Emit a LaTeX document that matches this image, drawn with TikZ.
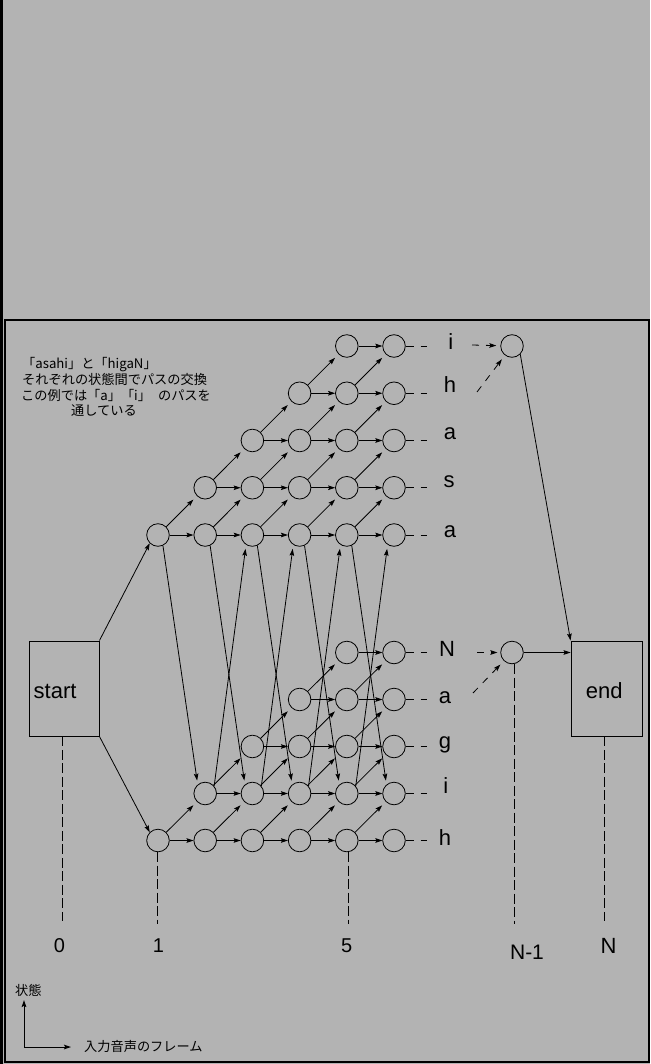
\documentclass[tikz,border=0pt]{standalone}
\usepackage{fontspec}
\setmainfont{Liberation Sans}
\newfontfamily\jpfont{Noto Sans CJK JP}
\usetikzlibrary{arrows.meta}
\definecolor{bg}{HTML}{B3B3B3}
\begin{document}
\begin{tikzpicture}[x=1pt,y=-1pt,
  st/.style={circle,draw,line width=0.8pt,minimum size=22.6pt,inner sep=0pt},
  box/.style={draw,line width=0.9pt,minimum width=70pt,minimum height=95pt,inner sep=0pt},
  tipstyle/.style={-{Stealth[length=7pt,width=4.6pt,inset=1.2pt]}},
  arr/.style={line width=0.8pt,tipstyle},
  diag/.style={arr,shorten >=5pt},
  cross/.style={arr,shorten >=4pt},
  stub/.style={line width=0.8pt,dash pattern=on 8pt off 7pt},
  darr/.style={arr,dash pattern=on 7pt off 7pt},
  vdash/.style={line width=0.8pt,dash pattern=on 10pt off 3.5pt},
  lbl/.style={font=\fontsize{22}{22}\selectfont,anchor=base,inner sep=0pt},
  num/.style={font=\fontsize{20}{20}\selectfont,anchor=base,inner sep=0pt},
  jp/.style={font=\jpfont\fontsize{13.2}{13.2}\selectfont,anchor=base west,inner sep=0pt},
]
\useasboundingbox (0,0) rectangle (650,1064);
\fill[bg] (0,0) rectangle (650,1064);
\fill[black] (0,0) rectangle (2.5,1064);
\draw[line width=1.2pt] (5,320) rectangle (649,1062);

% state nodes
\foreach \k in {1,...,6}{
  \pgfmathtruncatemacro\m{min(\k,5)}
  \foreach \r in {1,...,\m}{
    \node[st] (T-\k-\r) at ({158+(\k-1)*47.2},{535-(\r-1)*47.25}) {};
    \node[st] (B-\k-\r) at ({158+(\k-1)*47.2},{840.5-(\r-1)*47}) {};
  }
}
\node[st] (TR) at (512,346) {};
\node[st] (BR) at (512,652.5) {};

% start / end
\node[box] (start) at (64,688.5) {};
\node[lbl,anchor=base west] (starttxt) at (33.5,698) {start};
\node[box,minimum width=71pt] (end) at (606.5,688.5) {};
\node[lbl] (endtxt) at (604.2,698.3) {end};

% horizontal and diagonal transitions
\foreach \k in {1,...,5}{
  \pgfmathtruncatemacro\kk{\k+1}
  \foreach \r in {1,...,\k}{
    \draw[arr] (T-\k-\r) -- (T-\kk-\r);
    \draw[arr] (B-\k-\r) -- (B-\kk-\r);
  }
  \pgfmathtruncatemacro\mm{min(\k,4)}
  \foreach \r in {1,...,\mm}{
    \pgfmathtruncatemacro\rr{\r+1}
    \draw[diag] (T-\k-\r) -- (T-\kk-\rr);
    \draw[diag] (B-\k-\r) -- (B-\kk-\rr);
  }
}

% crossing transitions between the two words
\foreach \k in {1,...,5}{
  \pgfmathtruncatemacro\kk{\k+1}
  \draw[cross] (T-\k-1.295) -- (B-\kk-2.130);
}
\foreach \k in {2,...,5}{
  \pgfmathtruncatemacro\kk{\k+1}
  \draw[cross] (B-\k-2.40) -- (T-\kk-1.237);
}

% start transitions
\draw[arr] (start.north east) -- (T-1-1.225);
\draw[arr] (start.south east) -- (B-1-1.135);

% stubs and phoneme labels
\foreach \r in {1,...,5}{
  \draw[stub] (T-6-\r.east) -- ++(21,0);
  \draw[stub] (B-6-\r.east) -- ++(21,0);
}
\node[lbl] (Li) at (450.7,349) {i};
\node[lbl] (Lh) at (450,392) {h};
\node[lbl] (La1) at (450,439) {a};
\node[lbl] (Ls) at (449,487) {s};
\node[lbl] (La2) at (450,537) {a};
\node[lbl] (LN) at (447,656) {N};
\node[lbl] (Lab) at (445,703) {a};
\node[lbl] (Lg) at (445,748) {g};
\node[lbl] (Lib) at (445.7,793) {i};
\node[lbl] (Lhb) at (445,845) {h};

\coordinate (ai) at (472,345);
\coordinate (ah) at (477,392);
\coordinate (aN) at (477,652.5);
\coordinate (aa) at (473,693);
\draw[darr,shorten >=4pt] (ai) -- (TR);
\draw[darr,shorten >=5pt] (ah) -- (TR);
\draw[darr,shorten >=3pt] (aN) -- (BR);
\draw[darr,shorten >=5pt] (aa) -- (BR);

\draw[arr] (TR.-45) -- (end.north west);
\draw[arr] (BR) -- (BR -| end.west);

% frame index lines
\draw[vdash] ([xshift=-1.5pt]start.south) -- ++(0,185);
\draw[vdash] ([xshift=-1pt]B-1-1.south) -- ++(0,72);
\draw[vdash] ([xshift=2pt]B-5-1.south) -- ++(0,72);
\draw[vdash] ([xshift=2pt]BR.south) -- ++(0,260);
\draw[vdash] ([xshift=-2.5pt]end.south) -- ++(0,185);

\node[num] (n0) at (59.5,952) {0};
\node[num] (n1) at (158.5,952) {1};
\node[num] (n5) at (346.6,952.5) {5};
\node[num,font=\fontsize{21}{21}\selectfont] (nN1) at (527,959) {N-1};
\node[num,font=\fontsize{22}{22}\selectfont] (nN) at (608.5,953) {N};

% explanatory text
\node[jp] (j1) at (22,368) {「asahi」と「higaN」};
\node[jp] (j2) at (22,384.5) {それぞれの状態間でパスの交換};
\node[jp] (j3) at (21,400) {この例では「a」「i」\hspace{7pt}のパスを};
\node[jp] (j4) at (71,415.5) {通している};

% axes legend
\coordinate (O) at (24,1047);
\coordinate (Oy) at (24,1000);
\coordinate (Ox) at (71,1047);
\draw[arr,line width=1pt] (O) -- (Oy);
\draw[arr,line width=1pt] (O) -- (Ox);
\node[jp] (ylab) at (15,995.5) {状態};
\node[jp] (xlab) at (84,1051.5) {入力音声のフレーム};
\end{tikzpicture}
\end{document}
